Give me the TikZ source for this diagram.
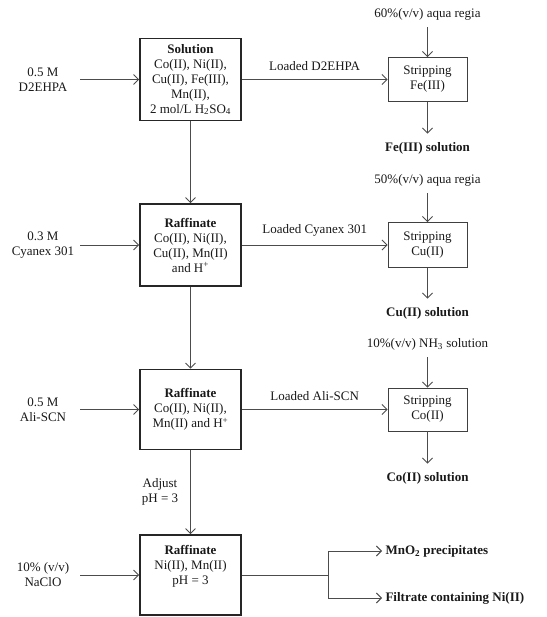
\documentclass[tikz,border=0pt]{standalone}
\usepackage{fontspec}
\setmainfont{Liberation Serif}
\usetikzlibrary{arrows.meta}

\begin{document}
\begin{tikzpicture}[x=1pt,y=-1pt,
        font=\fontsize{13}{15}\selectfont,
        every node/.style={align=center,text=black!90},
        mainbox/.style={draw=black!85,line width=1.6pt,minimum width=101pt,inner sep=1pt},
        stripbox/.style={draw=black!75,line width=0.9pt,minimum width=79pt,inner sep=1pt},
        inlabel/.style={minimum width=74pt,inner sep=0pt},
        flow/.style={draw=black!70,line width=0.9pt},
        arr/.style={flow,-{Straight Barb[length=5pt,width=10pt]}}]
                \useasboundingbox (0,0) rectangle (546,617);

                % main column
                \node[mainbox,minimum height=82pt] (sol) at (190.5,79.5) {\textbf{Solution}\\Co(II), Ni(II),\\Cu(II), Fe(III),\\Mn(II),\\2 mol/L H\textsubscript{2}SO\textsubscript{4}};
                \node[mainbox,minimum height=82pt] (raf1) at (190.5,245) {\textbf{Raffinate}\\Co(II), Ni(II),\\Cu(II), Mn(II)\\and H\textsuperscript{+}};
                \node[mainbox,minimum height=80pt] (raf2) at (190.5,409.5) {\textbf{Raffinate}\\Co(II), Ni(II),\\Mn(II) and H\textsuperscript{+}};
                \node[mainbox,minimum height=80pt] (raf3) at (190.5,575) {\textbf{Raffinate}\\Ni(II), Mn(II)\\pH = 3\\[6pt]};

                % extractants
                \node[inlabel] (d2ehpa) at (43,79.5) {0.5 M\\D2EHPA};
                \node[inlabel] (cyanex) at (43,245) {0.3 M\\Cyanex 301};
                \node[inlabel] (alliscn) at (43,409.5) {0.5 M\\Ali-SCN};
                \node[inlabel] (naclo) at (43,575) {10\% (v/v)\\NaClO};

                % stripping
                \node[stripbox,minimum height=44pt] (stripfe) at (427.5,79.5) {Stripping\\Fe(III)};
                \node[stripbox,minimum height=45pt] (stripcu) at (427.5,245) {Stripping\\Cu(II)};
                \node[stripbox,minimum height=43pt] (stripco) at (427.5,409.5) {Stripping\\Co(II)};

                \node (regfe) at (427.5,14) {60\%(v/v) aqua regia};
                \node (regcu) at (427.5,180) {50\%(v/v) aqua regia};
                \node (regco) at (427.5,344) {10\%(v/v) NH\textsubscript{3} solution};

                \node (solfe) at (427.5,148) {\textbf{Fe(III) solution}};
                \node (solcu) at (427.5,313) {\textbf{Cu(II) solution}};
                \node (solco) at (427.5,478) {\textbf{Co(II) solution}};

                \node (adjust) at (160,492) {Adjust\\pH = 3};

                \coordinate (split) at (328,575);
                \node[anchor=west] (mno2) at (382,551) {\textbf{MnO\textsubscript{2} precipitates}};
                \node[anchor=west] (filtrate) at (382,598) {\textbf{Filtrate containing Ni(II)}};

                \draw[arr] (d2ehpa) -- (sol);
                \draw[arr] (cyanex) -- (raf1);
                \draw[arr] (alliscn) -- (raf2);
                \draw[arr] (naclo) -- (raf3);

                \draw[arr] (sol) -- (raf1);
                \draw[arr] (raf1) -- (raf2);
                \draw[arr] (raf2) -- (raf3);

                \draw[arr] (sol) -- node[above=5pt] {Loaded D2EHPA} (stripfe);
                \draw[arr] (raf1) -- node[above=5pt] {Loaded Cyanex 301} (stripcu);
                \draw[arr] (raf2) -- node[above=5pt] {Loaded Ali-SCN} (stripco);

                \draw[arr,shorten <=4pt] (regfe) -- (stripfe);
                \draw[arr,shorten <=4pt] (regcu) -- (stripcu);
                \draw[arr,shorten <=4pt] (regco) -- (stripco);
                \draw[arr,shorten >=5pt] (stripfe) -- (solfe);
                \draw[arr,shorten >=5pt] (stripcu) -- (solcu);
                \draw[arr,shorten >=5pt] (stripco) -- (solco);

                \draw[flow] (raf3) -- (split);
                \draw[arr] (split) |- (mno2);
                \draw[arr] (split) |- (filtrate);
            \end{tikzpicture}
\end{document}
